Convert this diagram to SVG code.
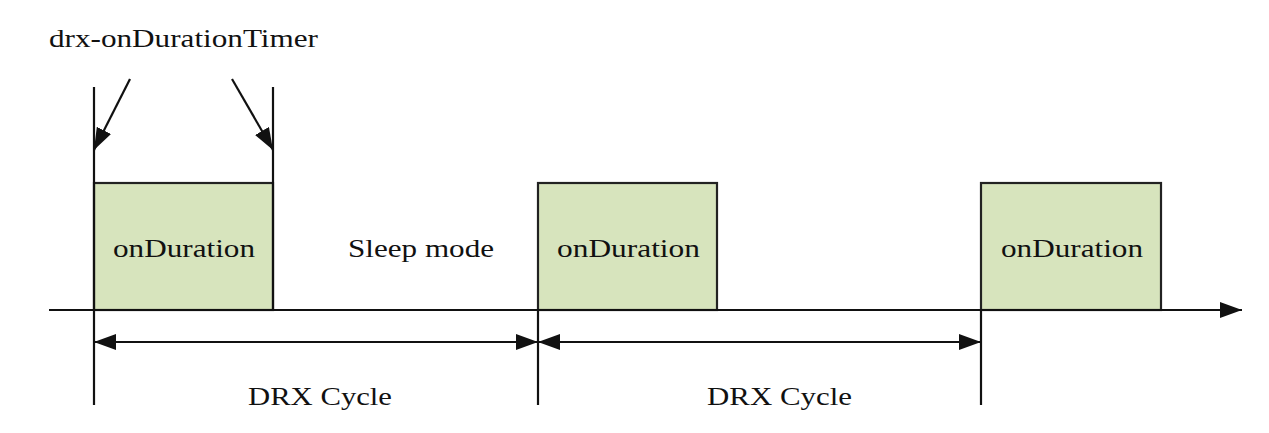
<svg xmlns="http://www.w3.org/2000/svg" width="1269" height="433" viewBox="0 0 1269 433">
<style>
.ln{stroke:#111;stroke-width:2.2;fill:none}
.box{fill:#d7e4bd;stroke:#222;stroke-width:2.2}
.t{font-family:"Liberation Serif","Times New Roman",serif;font-size:25.5px;fill:#111}
</style>
<defs>
<marker id="ah" markerUnits="userSpaceOnUse" markerWidth="24" markerHeight="18" refX="22" refY="8" orient="auto-start-reverse" viewBox="0 0 24 18">
<path d="M0,0 L22,8 L0,16 z" fill="#111"/>
</marker>
</defs>
<rect width="1269" height="433" fill="#fff"/>
<g id="node-box1">
<rect class="box" x="94" y="183" width="179" height="127"/>
<text class="t" x="113" y="257" textLength="142" lengthAdjust="spacingAndGlyphs">onDuration</text>
</g>
<g id="node-box2">
<rect class="box" x="538" y="183" width="179" height="127"/>
<text class="t" x="557" y="257" textLength="143" lengthAdjust="spacingAndGlyphs">onDuration</text>
</g>
<g id="node-box3">
<rect class="box" x="981" y="183" width="180" height="127"/>
<text class="t" x="1001" y="257" textLength="142" lengthAdjust="spacingAndGlyphs">onDuration</text>
</g>
<g id="node-labels">
<text class="t" x="49" y="46.5" textLength="269" lengthAdjust="spacingAndGlyphs">drx-onDurationTimer</text>
<text class="t" x="348" y="256.5" textLength="146" lengthAdjust="spacingAndGlyphs">Sleep mode</text>
<text class="t" x="248" y="405" textLength="144" lengthAdjust="spacingAndGlyphs">DRX Cycle</text>
<text class="t" x="707" y="405" textLength="145" lengthAdjust="spacingAndGlyphs">DRX Cycle</text>
</g>
<g id="connectors">
<line class="ln" x1="94" y1="87" x2="94" y2="405"/>
<line class="ln" x1="273" y1="87" x2="273" y2="310"/>
<line class="ln" x1="538" y1="310" x2="538" y2="405"/>
<line class="ln" x1="981" y1="310" x2="981" y2="405"/>
<line class="ln" x1="49" y1="310" x2="1242" y2="310" marker-end="url(#ah)"/>
<line class="ln" x1="94" y1="342" x2="538" y2="342" marker-start="url(#ah)" marker-end="url(#ah)"/>
<line class="ln" x1="538" y1="342" x2="981" y2="342" marker-start="url(#ah)" marker-end="url(#ah)"/>
<line class="ln" x1="130" y1="79" x2="94" y2="150" marker-end="url(#ah)"/>
<line class="ln" x1="232" y1="79" x2="273" y2="150" marker-end="url(#ah)"/>
</g>
</svg>
